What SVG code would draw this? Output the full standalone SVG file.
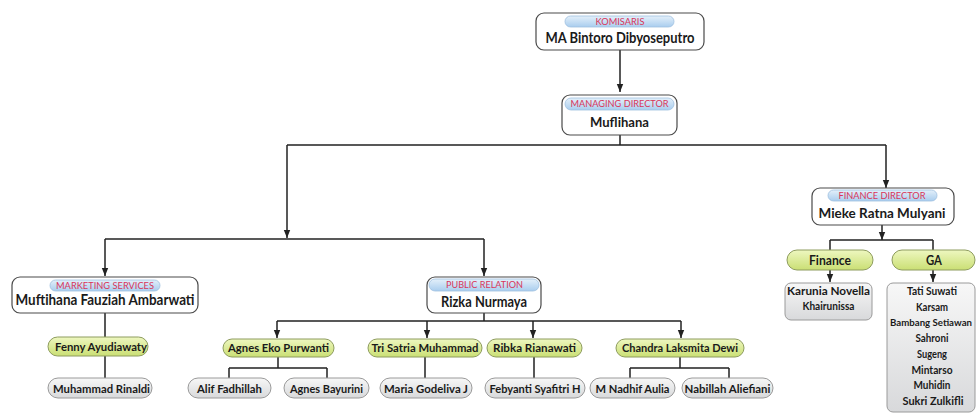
<svg xmlns="http://www.w3.org/2000/svg" width="976" height="418" viewBox="0 0 976 418">
<defs>
<linearGradient id="gBlue" x1="0" y1="0" x2="0" y2="1"><stop offset="0" stop-color="#e4f0fa"/><stop offset="1" stop-color="#a9cdee"/></linearGradient>
<linearGradient id="gGreen" x1="0" y1="0" x2="0" y2="1"><stop offset="0" stop-color="#eef7c0"/><stop offset="1" stop-color="#cadf74"/></linearGradient>
<linearGradient id="gGray" x1="0" y1="0" x2="0" y2="1"><stop offset="0" stop-color="#f7f7f7"/><stop offset="1" stop-color="#d8d9db"/></linearGradient>
<marker id="ah" markerUnits="userSpaceOnUse" markerWidth="8" markerHeight="8" viewBox="0 0 8 8" refX="8" refY="4" orient="auto"><path d="M0,0.8 L8,4 L0,7.2 Z" fill="#222"/></marker>
</defs>
<style>
text{font-family:Lato,"Open Sans","Liberation Sans",sans-serif;font-weight:bold;fill:#1a1a1a;text-anchor:middle}
.box{fill:#fff;stroke:#4a4a4a;stroke-width:1.2}
.lab{fill:url(#gBlue);stroke:#9fc0e0;stroke-width:0.8}
.lt{fill:#d9355a;font-size:8.5px;font-weight:normal}
.nm{font-size:15px}
.gp{fill:url(#gGreen);stroke:#8e9c5e;stroke-width:1}
.gy{fill:url(#gGray);stroke:#9a9a9a;stroke-width:1}
.s{font-size:12px}
.c{fill:none;stroke:#222;stroke-width:1.5}
.a{marker-end:url(#ah)}
</style>
<rect width="976" height="418" fill="#fff"/>
<g id="connectors">
<path class="c a" d="M620,50 V92"/>
<path class="c" d="M620,135 V145 M287,145 H886"/>
<path class="c a" d="M287,145 V238"/>
<path class="c a" d="M886,145 V188"/>
<path class="c" d="M105,239 H484"/>
<path class="c a" d="M105,239 V276"/>
<path class="c a" d="M484,239 V276"/>
<path class="c a" d="M882,225 V240"/>
<path class="c" d="M830,240 H933 M830,240 V250 M933,240 V250"/>
<path class="c a" d="M830,270 V282"/>
<path class="c a" d="M933,270 V282"/>
<path class="c" d="M105,313 V337 M105,356 V378"/>
<path class="c" d="M484,313 V321 M277,321 H681"/>
<path class="c a" d="M277,321 V338"/>
<path class="c a" d="M427,321 V338"/>
<path class="c a" d="M533,321 V338"/>
<path class="c a" d="M681,321 V338"/>
<path class="c" d="M278,357 V368 M229,368 H327 M229,368 V378 M327,368 V378"/>
<path class="c" d="M425,357 V378 M534,357 V378"/>
<path class="c" d="M680,357 V368 M630,368 H729 M630,368 V378 M729,368 V378"/>
</g>
<g id="komisaris">
<rect class="box" x="536" y="13" width="168" height="37" rx="8"/>
<rect class="lab" x="565" y="16" width="109" height="11" rx="5.5"/>
<text class="lt" x="620" y="24.5" textLength="49" lengthAdjust="spacingAndGlyphs">KOMISARIS</text>
<text class="nm" x="620" y="43" textLength="149" lengthAdjust="spacingAndGlyphs">MA Bintoro Dibyoseputro</text>
</g>
<g id="managing-director">
<rect class="box" x="562" y="95" width="115" height="40" rx="8"/>
<rect class="lab" x="565" y="98" width="109" height="12" rx="6"/>
<text class="lt" x="619.5" y="107" textLength="98" lengthAdjust="spacingAndGlyphs">MANAGING DIRECTOR</text>
<text style="font-size:14px" x="619.5" y="126.5" textLength="59" lengthAdjust="spacingAndGlyphs">Muflihana</text>
</g>
<g id="finance-director">
<rect class="box" x="812" y="188" width="142" height="37" rx="8"/>
<rect class="lab" x="828" y="190" width="109" height="11" rx="5.5"/>
<text class="lt" x="882" y="198.5" textLength="87" lengthAdjust="spacingAndGlyphs">FINANCE DIRECTOR</text>
<text style="font-size:14px" x="882" y="218" textLength="127" lengthAdjust="spacingAndGlyphs">Mieke Ratna Mulyani</text>
</g>
<g id="finance">
<rect class="gp" x="787" y="250" width="86" height="20" rx="10"/>
<text style="font-size:14px" x="830" y="265" textLength="42" lengthAdjust="spacingAndGlyphs">Finance</text>
</g>
<g id="ga">
<rect class="gp" x="892" y="250" width="83" height="20" rx="10"/>
<text style="font-size:14px" x="934" y="265" textLength="16" lengthAdjust="spacingAndGlyphs">GA</text>
</g>
<g id="finance-staff">
<rect class="gy" x="785" y="283" width="87" height="37" rx="6"/>
<text class="s" x="828.5" y="295" textLength="83" lengthAdjust="spacingAndGlyphs">Karunia Novella</text>
<text class="s" x="828.5" y="310" textLength="52" lengthAdjust="spacingAndGlyphs">Khairunissa</text>
</g>
<g id="ga-staff">
<rect class="gy" x="887" y="283" width="88" height="129" rx="6"/>
<text class="s" x="932" y="295" textLength="50" lengthAdjust="spacingAndGlyphs">Tati Suwati</text>
<text class="s" x="932" y="310.7" textLength="32" lengthAdjust="spacingAndGlyphs">Karsam</text>
<text style="font-size:10px" x="931" y="326.4" textLength="82" lengthAdjust="spacingAndGlyphs">Bambang Setiawan</text>
<text class="s" x="932" y="342.1" textLength="33" lengthAdjust="spacingAndGlyphs">Sahroni</text>
<text class="s" x="932" y="357.8" textLength="30" lengthAdjust="spacingAndGlyphs">Sugeng</text>
<text class="s" x="932" y="373.5" textLength="41" lengthAdjust="spacingAndGlyphs">Mintarso</text>
<text class="s" x="932" y="389.2" textLength="37" lengthAdjust="spacingAndGlyphs">Muhidin</text>
<text class="s" x="933" y="404.9" textLength="61" lengthAdjust="spacingAndGlyphs">Sukri Zulkifli</text>
</g>
<g id="marketing-services">
<rect class="box" x="12" y="277" width="186" height="36" rx="8"/>
<rect class="lab" x="50" y="280" width="110" height="11" rx="5.5"/>
<text class="lt" x="105" y="288.5" textLength="98" lengthAdjust="spacingAndGlyphs">MARKETING SERVICES</text>
<text class="nm" x="105" y="304.5" textLength="179" lengthAdjust="spacingAndGlyphs">Muftihana Fauziah Ambarwati</text>
</g>
<g id="fenny">
<rect class="gp" x="48" y="337" width="100" height="19" rx="9.5"/>
<text class="s" x="101" y="351" textLength="92" lengthAdjust="spacingAndGlyphs">Fenny Ayudiawaty</text>
</g>
<g id="muhammad-rinaldi">
<rect class="gy" x="48" y="378" width="104" height="20" rx="10"/>
<text class="s" x="101.5" y="392.5" textLength="97" lengthAdjust="spacingAndGlyphs">Muhammad Rinaldi</text>
</g>
<g id="public-relation">
<rect class="box" x="427" y="277" width="114" height="36" rx="8"/>
<rect class="lab" x="429" y="279" width="110" height="12" rx="6"/>
<text class="lt" x="484.5" y="288" textLength="77" lengthAdjust="spacingAndGlyphs">PUBLIC RELATION</text>
<text class="nm" x="484" y="307" textLength="86" lengthAdjust="spacingAndGlyphs">Rizka Nurmaya</text>
</g>
<g id="agnes-eko">
<rect class="gp" x="223" y="339" width="111" height="18" rx="9"/>
<text class="s" x="278.5" y="352" textLength="101" lengthAdjust="spacingAndGlyphs">Agnes Eko Purwanti</text>
</g>
<g id="tri-satria">
<rect class="gp" x="368" y="339" width="114" height="18" rx="9"/>
<text class="s" x="425" y="352" textLength="107" lengthAdjust="spacingAndGlyphs">Tri Satria Muhammad</text>
</g>
<g id="ribka">
<rect class="gp" x="487" y="339" width="95" height="18" rx="9"/>
<text class="s" x="534.5" y="352" textLength="83" lengthAdjust="spacingAndGlyphs">Ribka Rianawati</text>
</g>
<g id="chandra">
<rect class="gp" x="616" y="339" width="128" height="18" rx="9"/>
<text class="s" x="680" y="352" textLength="116" lengthAdjust="spacingAndGlyphs">Chandra Laksmita Dewi</text>
</g>
<g id="alif">
<rect class="gy" x="188" y="378" width="83" height="20" rx="10"/>
<text class="s" x="229.5" y="392.5" textLength="65" lengthAdjust="spacingAndGlyphs">Alif Fadhillah</text>
</g>
<g id="agnes-bayurini">
<rect class="gy" x="284" y="378" width="85" height="20" rx="10"/>
<text class="s" x="326.5" y="392.5" textLength="73" lengthAdjust="spacingAndGlyphs">Agnes Bayurini</text>
</g>
<g id="maria">
<rect class="gy" x="380" y="378" width="92" height="20" rx="10"/>
<text class="s" x="426" y="392.5" textLength="84" lengthAdjust="spacingAndGlyphs">Maria Godeliva J</text>
</g>
<g id="febyanti">
<rect class="gy" x="485" y="378" width="100" height="20" rx="10"/>
<text class="s" x="535" y="392.5" textLength="91" lengthAdjust="spacingAndGlyphs">Febyanti Syafitri H</text>
</g>
<g id="nadhif">
<rect class="gy" x="590" y="378" width="85" height="20" rx="10"/>
<text class="s" x="632.5" y="392.5" textLength="74" lengthAdjust="spacingAndGlyphs">M Nadhif Aulia</text>
</g>
<g id="nabillah">
<rect class="gy" x="682" y="378" width="91" height="20" rx="10"/>
<text class="s" x="727.5" y="392.5" textLength="86" lengthAdjust="spacingAndGlyphs">Nabillah Aliefiani</text>
</g>
</svg>
